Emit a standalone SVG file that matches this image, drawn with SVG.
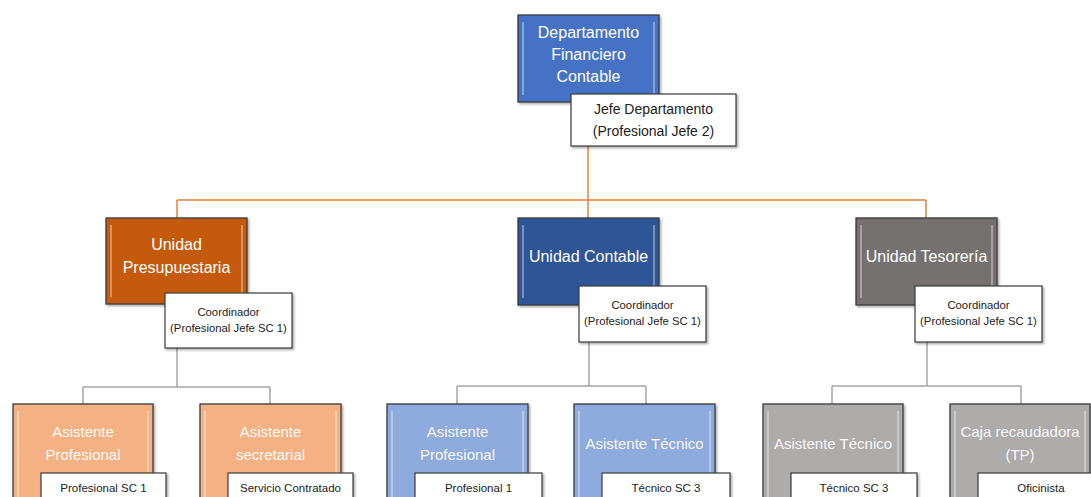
<svg xmlns="http://www.w3.org/2000/svg" width="1091" height="497" viewBox="0 0 1091 497">
<defs>
<filter id="sh" x="-10%" y="-10%" width="130%" height="140%"><feDropShadow dx="1.5" dy="1.5" stdDeviation="1.2" flood-color="#000" flood-opacity="0.35"/></filter>
</defs>
<style>
.node{stroke:#3a3a3a;stroke-width:1.3;filter:url(#sh)}
.bev{fill:none;stroke:#fff;stroke-opacity:0.35;stroke-width:2}
.lbl{fill:#fff;font-family:"Liberation Sans",Arial,sans-serif;font-size:16px;text-anchor:middle}
.lblb{fill:#fff;fill-opacity:0.95;font-family:"Liberation Sans",Arial,sans-serif;font-size:15px;text-anchor:middle}
.tb{fill:#fff;stroke:#3a3a3a;stroke-width:1.2;filter:url(#sh)}
.t1{fill:#222;font-family:"Liberation Sans",Arial,sans-serif;font-size:14px;text-anchor:middle}
.t2{fill:#222;font-family:"Liberation Sans",Arial,sans-serif;font-size:11.3px;text-anchor:middle}
.t3{fill:#222;font-family:"Liberation Sans",Arial,sans-serif;font-size:11.5px;text-anchor:middle}
.co{fill:none;stroke:#ED7D31;stroke-width:1.5}
.cg{fill:none;stroke:#A5A5A5;stroke-width:1.5}
</style>
<rect width="1091" height="497" fill="#fff"/>
<g id="connectors">
<path class="co" d="M588 146V200M177 200H926M177 200V218M588 200V218M926 200V218"/>
<path class="cg" d="M177 348V387M83 387H270M83 387V404M270 387V404"/>
<path class="cg" d="M589 342V386M457 386H646M457 386V404M646 386V404"/>
<path class="cg" d="M927 342V386M832 386H1021M832 386V404M1021 386V404"/>
</g>
<g id="dept">
<rect class="node" x="518" y="15" width="141" height="87" fill="#4472C4"/>
<path class="bev" d="M523 22V95M654 22V95"/>
<text class="lbl" x="588.5" y="37.5">Departamento</text>
<text class="lbl" x="588.5" y="59.5">Financiero</text>
<text class="lbl" x="588.5" y="81.5">Contable</text>
</g>
<g id="dept-role">
<rect class="tb" x="571" y="94" width="165" height="52"/>
<text class="t1" x="653.5" y="114">Jefe Departamento</text>
<text class="t1" x="653.5" y="136">(Profesional Jefe 2)</text>
</g>
<g id="presup">
<rect class="node" x="106" y="218" width="141" height="86" fill="#C55A11"/>
<path class="bev" d="M111 225V297M242 225V297"/>
<text class="lbl" x="176.5" y="249.5">Unidad</text>
<text class="lbl" x="176.5" y="272.5">Presupuestaria</text>
</g>
<g id="presup-role">
<rect class="tb" x="165" y="293" width="127" height="55"/>
<text class="t2" x="228.5" y="316">Coordinador</text>
<text class="t2" x="228.5" y="332">(Profesional Jefe SC 1)</text>
</g>
<g id="contable">
<rect class="node" x="518" y="218" width="141" height="87" fill="#2F5597"/>
<path class="bev" d="M523 225V298M654 225V298"/>
<text class="lbl" x="588.5" y="261.5">Unidad Contable</text>
</g>
<g id="contable-role">
<rect class="tb" x="579" y="286" width="127" height="56"/>
<text class="t2" x="642.5" y="309">Coordinador</text>
<text class="t2" x="642.5" y="325">(Profesional Jefe SC 1)</text>
</g>
<g id="tesoreria">
<rect class="node" x="856" y="218" width="141" height="87" fill="#767171"/>
<path class="bev" d="M861 225V298M992 225V298"/>
<text class="lbl" x="926.5" y="261.5">Unidad Tesorería</text>
</g>
<g id="tesoreria-role">
<rect class="tb" x="915" y="286" width="127" height="56"/>
<text class="t2" x="978.5" y="309">Coordinador</text>
<text class="t2" x="978.5" y="325">(Profesional Jefe SC 1)</text>
</g>
<g id="asis-prof-1">
<rect class="node" x="13" y="404" width="140" height="110" fill="#F4B183"/>
<path class="bev" d="M18 411V500M148 411V500"/>
<text class="lblb" x="83" y="437">Asistente</text>
<text class="lblb" x="83" y="460">Profesional</text>
</g>
<g id="asis-prof-1-role">
<rect class="tb" x="41" y="473" width="125" height="40"/>
<text class="t3" x="103.5" y="491.5">Profesional SC 1</text>
</g>
<g id="asis-secr">
<rect class="node" x="200" y="404" width="141" height="110" fill="#F4B183"/>
<path class="bev" d="M205 411V500M336 411V500"/>
<text class="lblb" x="270.5" y="437">Asistente</text>
<text class="lblb" x="270.5" y="460">secretarial</text>
</g>
<g id="asis-secr-role">
<rect class="tb" x="228" y="473" width="125" height="40"/>
<text class="t3" x="290.5" y="491.5">Servicio Contratado</text>
</g>
<g id="asis-prof-2">
<rect class="node" x="387" y="404" width="141" height="110" fill="#8FAADC"/>
<path class="bev" d="M392 411V500M523 411V500"/>
<text class="lblb" x="457.5" y="437">Asistente</text>
<text class="lblb" x="457.5" y="460">Profesional</text>
</g>
<g id="asis-prof-2-role">
<rect class="tb" x="415" y="473" width="127" height="40"/>
<text class="t3" x="478.5" y="491.5">Profesional 1</text>
</g>
<g id="asis-tec-1">
<rect class="node" x="574" y="404" width="141" height="110" fill="#8FAADC"/>
<path class="bev" d="M579 411V500M710 411V500"/>
<text class="lblb" x="644.5" y="448.5">Asistente Técnico</text>
</g>
<g id="asis-tec-1-role">
<rect class="tb" x="602" y="473" width="128" height="40"/>
<text class="t3" x="666" y="491.5">Técnico SC 3</text>
</g>
<g id="asis-tec-2">
<rect class="node" x="763" y="404" width="140" height="110" fill="#AEABAB"/>
<path class="bev" d="M768 411V500M898 411V500"/>
<text class="lblb" x="833" y="448.5">Asistente Técnico</text>
</g>
<g id="asis-tec-2-role">
<rect class="tb" x="791" y="473" width="126" height="40"/>
<text class="t3" x="854" y="491.5">Técnico SC 3</text>
</g>
<g id="caja">
<rect class="node" x="950" y="404" width="140" height="110" fill="#AEABAB"/>
<path class="bev" d="M955 411V500M1085 411V500"/>
<text class="lblb" x="1020" y="437">Caja recaudadora</text>
<text class="lblb" x="1020" y="460">(TP)</text>
</g>
<g id="caja-role">
<rect class="tb" x="978" y="473" width="126" height="40"/>
<text class="t3" x="1041" y="491.5">Oficinista</text>
</g>
</svg>
